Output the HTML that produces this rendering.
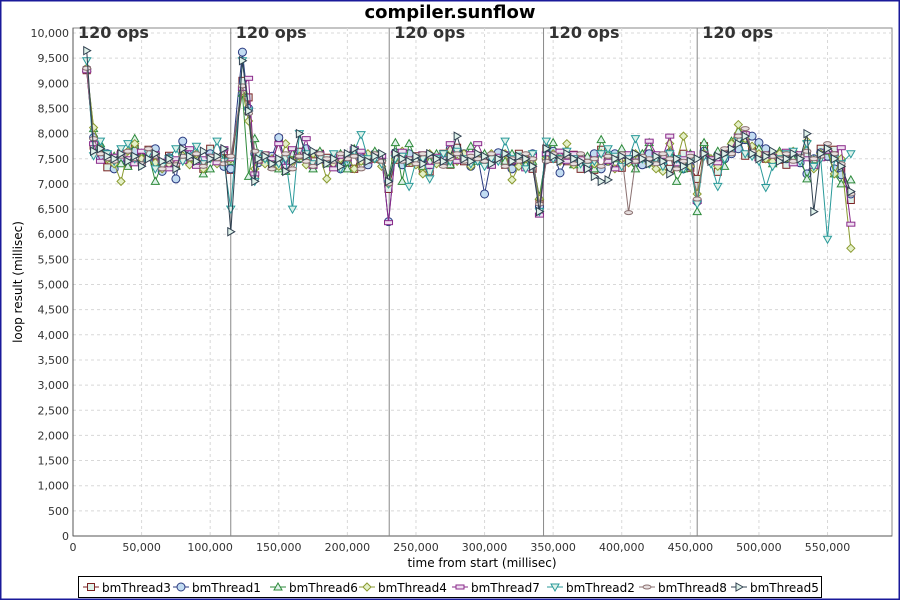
<!DOCTYPE html>
<html><head><meta charset="utf-8"><style>
html,body{margin:0;padding:0;background:#fff}
svg{display:block;font-family:"DejaVu Sans","Liberation Sans",sans-serif}
</style></head><body>
<svg id="c" width="900" height="600" viewBox="0 0 900 600" xmlns="http://www.w3.org/2000/svg">
<rect x="0" y="0" width="900" height="600" fill="#fff"/>
<rect x="0.5" y="0.5" width="899" height="599" fill="none" stroke="#1a1a9a" stroke-width="2"/>
<text x="450" y="18" text-anchor="middle" font-size="18" font-weight="bold" fill="#000">compiler.sunflow</text>
<g id="grid"></g>
<g id="axes"></g>
<g id="series"></g>
<text x="0" y="0" transform="translate(22,282) rotate(-90)" text-anchor="middle" font-size="12" fill="#000">loop result (millisec)</text>
<text x="482" y="567" text-anchor="middle" font-size="12" fill="#000">time from start (millisec)</text>
<g id="legend"></g>
</svg>
<script>
const times=[10000,15000,20000,25000,30000,35000,40000,45000,50000,55000,60000,65000,70000,75000,80000,85000,90000,95000,100000,105000,110000,115000,123500,128000,132500,135000,140000,145000,150000,155000,160000,165000,170000,175000,180000,185000,190000,195000,200000,205000,210000,215000,220000,225000,230000,235000,240000,245000,250000,255000,260000,265000,270000,275000,280000,285000,290000,295000,300000,305000,310000,315000,320000,325000,330000,335000,340000,345000,350000,355000,360000,365000,370000,375000,380000,385000,390000,395000,400000,405000,410000,415000,420000,425000,430000,435000,440000,445000,450000,455000,460000,465000,470000,475000,480000,485000,490000,495000,500000,505000,510000,515000,520000,525000,530000,535000,540000,545000,550000,555000,560000,567000];
const seriesNames=["bmThread3","bmThread1","bmThread6","bmThread4","bmThread7","bmThread2","bmThread8","bmThread5"];
const bmThread3=[9260,7760,7650,7330,7480,7600,7380,7700,7520,7680,7420,7350,7560,7380,7620,7460,7540,7300,7700,7480,7650,7280,9050,8720,7150,7550,7480,7350,7900,7420,7500,7640,7580,7450,7600,7520,7380,7480,7560,7300,7600,7420,7500,7480,6900,7480,7600,7420,7550,7300,7250,7500,7600,7380,7720,7450,7500,7560,7480,7400,7520,7380,7460,7600,7520,7300,6620,7700,7500,7620,7450,7580,7300,7500,7280,7680,7500,7560,7320,7480,7500,7420,7600,7480,7520,7300,7460,7600,7320,7100,7750,7480,7240,7600,7680,7950,7560,7700,7620,7500,7560,7480,7380,7560,7520,7600,7420,7700,7540,7680,7300,6680];
const bmThread1=[9280,7920,7500,7600,7300,7520,7420,7650,7400,7600,7700,7250,7520,7100,7850,7620,7500,7400,7600,7450,7350,7300,9620,8500,7600,7420,7480,7550,7920,7400,7600,7500,7700,7350,7600,7450,7520,7300,7420,7650,7500,7380,7600,7520,6250,7620,7380,7600,7450,7500,7380,7520,7420,7700,7500,7600,7350,7550,6800,7500,7620,7400,7300,7500,7480,7600,6550,7480,7650,7220,7500,7480,7550,7350,7600,7300,7450,7600,7520,7500,7420,7380,7600,7500,7450,7620,7400,7300,7350,6650,7650,7480,7580,7500,7600,7700,7880,7950,7820,7700,7600,7550,7500,7620,7420,7200,7500,7620,7550,7300,7180,6800];
const bmThread6=[9300,8100,7800,7500,7550,7400,7350,7900,7550,7600,7050,7400,7500,7350,7650,7500,7550,7200,7300,7520,7500,7450,8800,7150,7900,7600,7450,7350,7300,7250,7600,7500,7550,7300,7650,7400,7500,7600,7300,7700,7450,7550,7650,7520,7100,7820,7050,7800,7500,7350,7450,7600,7500,7380,7550,7500,7750,7450,7600,7380,7500,7450,7600,7500,7380,7450,6750,7600,7820,7500,7650,7380,7480,7550,7300,7880,7600,7500,7700,7450,7300,7600,7820,7450,7550,7600,7050,7300,7600,6450,7820,7500,7650,7350,7850,8050,7900,7600,7700,7550,7400,7650,7500,7500,7550,7100,7480,7600,7650,7200,7000,7080];
const bmThread4=[9300,8120,7700,7500,7400,7050,7650,7800,7500,7550,7420,7300,7400,7450,7560,7380,7600,7300,7500,7400,7450,7500,8850,8250,7300,7550,7400,7500,7350,7800,7450,7550,7380,7600,7550,7100,7400,7500,7550,7300,7450,7600,7500,7350,7000,7500,7650,7450,7380,7200,7600,7400,7550,7680,7450,7600,7350,7500,7450,7600,7500,7600,7080,7350,7500,7480,6700,7500,7600,7450,7800,7380,7500,7380,7400,7600,7450,7300,7500,7420,7600,7500,7400,7300,7250,7800,7450,7950,7350,6800,7600,7500,7350,7650,7800,8180,7900,7750,7600,7500,7450,7600,7520,7650,7500,7850,7300,7600,7700,7200,7500,5720];
const bmThread7=[9250,7800,7450,7600,7550,7600,7500,7400,7650,7500,7600,7450,7300,7500,7450,7700,7350,7500,7550,7420,7700,7500,8900,9100,7200,7450,7600,7500,7800,7350,7700,7550,7900,7350,7600,7450,7300,7550,7500,7700,7650,7450,7500,7550,6230,7600,7650,7500,7450,7600,7350,7550,7500,7800,7450,7500,7600,7800,7500,7350,7550,7600,7450,7500,7300,7550,6380,7600,7500,7650,7450,7600,7500,7300,7500,7600,7450,7300,7550,7600,7450,7500,7850,7600,7550,7950,7400,7500,7600,6650,7600,7500,7420,7600,7700,7950,8000,7600,7500,7600,7550,7500,7650,7400,7600,7500,7350,7500,7650,7600,7720,6200];
const bmThread2=[9450,7560,7850,7600,7450,7700,7800,7500,7380,7600,7300,7350,7500,7700,7450,7550,7750,7400,7500,7850,7450,6500,9450,8450,7050,7600,7500,7350,7400,7500,6500,8000,7600,7400,7500,7450,7600,7300,7500,7650,7980,7500,7500,7400,7000,7500,7550,6950,7450,7500,7100,7500,7600,7450,7650,7500,7400,7450,7350,7500,7450,7850,7500,7550,7300,7600,6450,7850,7500,7500,7650,7500,7400,7350,7450,7600,7700,7550,7350,7500,7900,7500,7400,7500,7350,7600,7500,7300,7500,6600,7550,7400,6950,7500,7650,7850,7600,7550,7450,6930,7350,7500,7600,7650,7450,7800,7350,7500,5900,7500,7400,7600];
const bmThread8=[9300,7900,7600,7500,7450,7550,7650,7500,7400,7700,7550,7300,7450,7380,7550,7500,7600,7350,7550,7500,7400,7550,8950,8400,7650,7450,7600,7300,7500,7600,7300,7550,7450,7350,7600,7500,7450,7600,7500,7550,7300,7450,7600,7450,7000,7600,7450,7500,7400,7600,7550,7450,7350,7500,7600,7450,7550,7500,7450,7600,7500,7350,7500,7450,7600,7500,6600,7450,7600,7500,7550,7400,7600,7450,7500,7350,7550,7500,7600,6430,7450,7550,7500,7400,7600,7500,7300,7450,7550,6700,7600,7450,7550,7700,7600,7950,8100,7650,7500,7600,7550,7500,7600,7450,7550,7650,7500,7550,7800,7600,7400,6800];
const bmThread5=[9650,7650,7700,7550,7500,7600,7450,7550,7350,7500,7600,7450,7500,7300,7700,7550,7450,7650,7500,7550,7700,6050,9450,8450,7050,7500,7550,7400,7500,7250,7450,8000,7550,7650,7450,7400,7500,7350,7600,7700,7500,7450,7550,7600,7050,7600,7500,7450,7550,7400,7600,7500,7450,7550,7950,7500,7450,7600,7550,7400,7500,7600,7450,7550,7500,7350,6450,7700,7550,7450,7600,7500,7450,7300,7150,7050,7080,7500,7550,7450,7600,7500,7400,7550,7450,7200,7500,7350,7450,7500,7600,7450,7550,7600,7700,7800,7950,7600,7500,7550,7650,7450,7500,7600,7500,8000,6450,7600,7700,7500,7350,6850];
const seriesValues=[bmThread3,bmThread1,bmThread6,bmThread4,bmThread7,bmThread2,bmThread8,bmThread5];
const yTicks=[0,500,1000,1500,2000,2500,3000,3500,4000,4500,5000,5500,6000,6500,7000,7500,8000,8500,9000,9500,10000];
const xTicks=[0,50000,100000,150000,200000,250000,300000,350000,400000,450000,500000,550000];
const markerTimes=[0,115000,230500,343000,455000];
const markerLabels=["120 ops","120 ops","120 ops","120 ops","120 ops"];

const NS="http://www.w3.org/2000/svg";
const L=73,R=892,T=28,B=536;
const X_MAX=597000,Y_MAX=10100;
const xs=v=>L+(v/X_MAX)*(R-L);
const ys=v=>B-(v/Y_MAX)*(B-T);
function mk(tag,attrs,parent){const e=document.createElementNS(NS,tag);for(const k in attrs)e.setAttribute(k,attrs[k]);parent.appendChild(e);return e;}
const fmt=n=>n.toLocaleString("en-US");
const grid=document.getElementById("grid"),axes=document.getElementById("axes"),ser=document.getElementById("series"),leg=document.getElementById("legend");

const bg=mk("rect",{x:L,y:T,width:R-L,height:B-T,fill:"#fff",stroke:"#888","stroke-width":1},grid);


yTicks.forEach(v=>{
  const y=ys(v);
  const g=mk("line",{x1:L,x2:R,y1:y,y2:y,stroke:"#d8d8d8","stroke-dasharray":"3,3","stroke-width":1},grid);
  
  
  const t=mk("text",{x:L-4,y:y+4,"text-anchor":"end","font-size":11,fill:"#333"},axes);
  t.textContent=fmt(v);
  
  
});
xTicks.forEach(v=>{
  const x=xs(v);
  const g=mk("line",{x1:x,x2:x,y1:T,y2:B,stroke:"#d8d8d8","stroke-dasharray":"3,3","stroke-width":1},grid);
  
  
  const t=mk("text",{x:x,y:B+15,"text-anchor":"middle","font-size":11,fill:"#333"},axes);
  t.textContent=fmt(v);
  
  
});
const ax1=mk("line",{x1:L,x2:R,y1:B,y2:B,stroke:"#555","stroke-width":1},axes);


const ax2=mk("line",{x1:L,x2:L,y1:T,y2:B,stroke:"#555","stroke-width":1},axes);


markerTimes.forEach((m,i)=>{
  const x=xs(m);
  if(m>0){
    const ln=mk("line",{x1:x,x2:x,y1:T,y2:B,stroke:"#888","stroke-width":1},axes);
    
    
  }
  const t=mk("text",{x:x+5,y:T+10,"font-size":16,"font-weight":"bold",fill:"#333"},axes);
  t.textContent=markerLabels[i];
  
  
});
const colors=["#7a2222","#2a3a80","#2e8a3a","#8a9a30","#8a2a8a","#2a9a9a","#8a7070","#304050"];
const fills=["#dff2ea","#c2dcf2","#dff2ea","#e4f0c8","#f0e0f2","#dff2ea","#e8e0e0","#dff2ea"];
const shapes=["square","circle","up","diamond","rect","down","ellipse","right"];
function marker(shape,x,y,c,f,parent){
  let e;
  if(shape==="square")e=mk("rect",{x:x-3.5,y:y-3.5,width:7,height:7},parent);
  else if(shape==="circle")e=mk("circle",{cx:x,cy:y,r:4},parent);
  else if(shape==="rect")e=mk("rect",{x:x-4,y:y-2,width:8,height:4},parent);
  else if(shape==="ellipse")e=mk("ellipse",{cx:x,cy:y,rx:4,ry:2},parent);
  else{let p;
    if(shape==="up")p=[[x,y-4],[x+4,y+3],[x-4,y+3]];
    else if(shape==="down")p=[[x-4,y-3],[x+4,y-3],[x,y+4]];
    else if(shape==="diamond")p=[[x,y-4],[x+4,y],[x,y+4],[x-4,y]];
    else p=[[x-3,y-4],[x+4,y],[x-3,y+4]];
    e=mk("polygon",{points:p.map(q=>q.join(",")).join(" ")},parent);}
  e.setAttribute("fill",f);e.setAttribute("stroke",c);e.setAttribute("stroke-width",1);
  return e;
}
seriesValues.forEach((vals,si)=>{
  const g=mk("g",{},ser);
  
  
  const n=Math.min(vals.length,times.length);
  const pts=[];
  for(let i=0;i<n;i++)pts.push(xs(times[i]).toFixed(1)+","+ys(vals[i]).toFixed(1));
  const pl=mk("polyline",{points:pts.join(" "),fill:"none",stroke:colors[si],"stroke-width":1},g);
  
  
  for(let i=0;i<n;i++){
    const m=marker(shapes[si],xs(times[i]),ys(vals[i]),colors[si],fills[si],g);
    
    
  }
});
const lb=mk("rect",{x:78.5,y:576.5,width:743,height:21,fill:"#fff",stroke:"#000","stroke-width":1},leg);


const legText=[102,192,289,378,471,566,658,750];
seriesNames.forEach((nm,i)=>{
  const x=legText[i]-19,y=587;
  const g=mk("g",{},leg);
  
  
  mk("line",{x1:x,x2:x+16,y1:y,y2:y,stroke:colors[i],"stroke-width":1},g);
  marker(shapes[i],x+8,y,colors[i],fills[i],g);
  const t=mk("text",{x:legText[i],y:y+5,"font-size":12,fill:"#000"},g);
  t.textContent=nm;
  
  
});
</script>
</body></html>
